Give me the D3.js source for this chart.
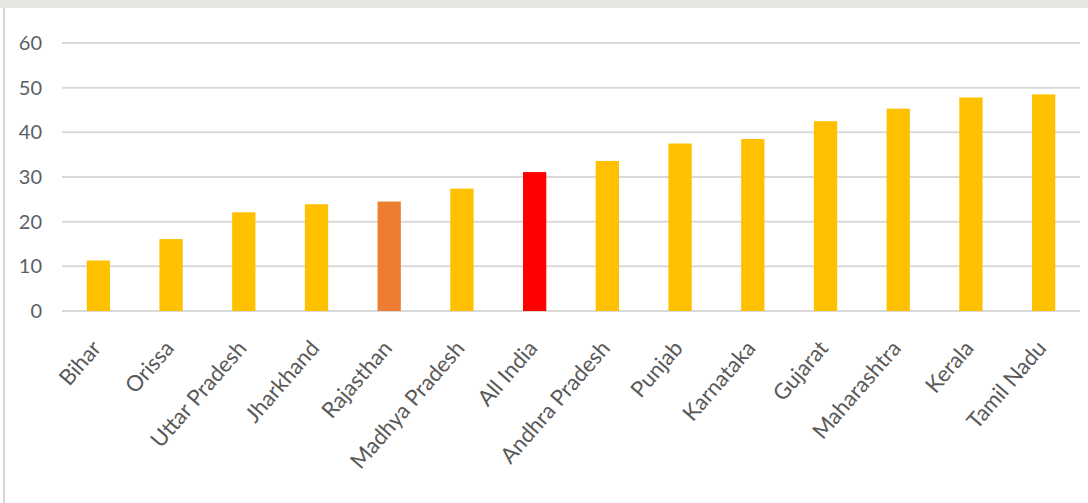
<!DOCTYPE html>
<html>
<head>
<meta charset="utf-8">
<script src="https://cdn.jsdelivr.net/npm/d3@7"></script>
<style>
  body { margin: 0; background: #fff; }
  svg { display: block; }
</style>
</head>
<body>
<div id="chart"></div>
<script>
const WIDTH = 1088;
const HEIGHT = 503;
const MARGIN = { top: 43, right: 8, bottom: 192, left: 62 };

const states = ["Bihar", "Orissa", "Uttar Pradesh", "Jharkhand", "Rajasthan", "Madhya Pradesh", "All India",
    "Andhra Pradesh", "Punjab", "Karnataka", "Gujarat", "Maharashtra", "Kerala", "Tamil Nadu"];
const values = [11.3, 16.1, 22.1, 23.9, 24.5, 27.4, 31.1, 33.6, 37.5, 38.5, 42.5, 45.3, 47.8, 48.5];
const yTicks = [0, 10, 20, 30, 40, 50, 60];
const highlight = { "Rajasthan": "#ED7D31", "All India": "#FF0000" };

const innerW = WIDTH - MARGIN.left - MARGIN.right;
const innerH = HEIGHT - MARGIN.top - MARGIN.bottom;

const root = d3.select("#chart").append("svg")
    .attr("width", WIDTH)
    .attr("height", HEIGHT);

// screenshot frame: top strip and left edge
root.append("rect").attr("x", 0).attr("y", 0).attr("width", WIDTH).attr("height", 8).attr("fill", "#e4e6e2");
root.append("line").attr("x1", 4).attr("x2", 4).attr("y1", 8).attr("y2", HEIGHT)
    .attr("stroke", "#d6d6d6").attr("stroke-width", 2);

const svg = root.append("g")
    .attr("transform", `translate(${MARGIN.left},${MARGIN.top})`);

const x = d3.scaleBand()
    .domain(states)
    .range([0, innerW])
    .paddingInner(0.68)
    .paddingOuter(0.34);

const y = d3.scaleLinear()
    .domain([0, 60])
    .range([innerH, 0]);

// gridlines
svg.append("g")
    .selectAll("line")
    .data(yTicks)
    .enter().append("line")
    .attr("x1", 0)
    .attr("x2", innerW)
    .attr("y1", d => y(d))
    .attr("y2", d => y(d))
    .attr("stroke", "#d9d9d9")
    .attr("stroke-width", 2);

// y labels
const yAxis = svg.append("g")
    .call(d3.axisLeft(y).tickValues(yTicks).tickSize(0).tickPadding(20));
yAxis.select(".domain").remove();
yAxis.selectAll("text")
    .attr("fill", "#5b5f66")
    .style("font-family", "Lato, 'Noto Sans', sans-serif")
    .style("font-size", "20px");

svg.selectAll(".bar")
    .data(states.map((s, i) => ({ state: s, value: values[i] })))
    .enter().append("rect")
    .attr("class", "bar")
    .attr("x", d => x(d.state))
    .attr("y", d => y(d.value))
    .attr("width", x.bandwidth())
    .attr("height", d => y(0) - y(d.value))
    .attr("fill", d => highlight[d.state] || "#FFC000");

// x labels
const xAxis = svg.append("g")
    .attr("transform", `translate(0,${innerH})`)
    .call(d3.axisBottom(x).tickSize(0).tickPadding(0));
xAxis.select(".domain").remove();
xAxis.selectAll("text")
    .attr("fill", "#595959")
    .style("font-family", "Lato, 'Noto Sans', sans-serif")
    .style("font-size", "22px")
    .style("text-anchor", "end")
    .attr("dy", null)
    .attr("y", 0)
    .attr("transform", "translate(4,38) rotate(-49)");
</script>
</body>
</html>
